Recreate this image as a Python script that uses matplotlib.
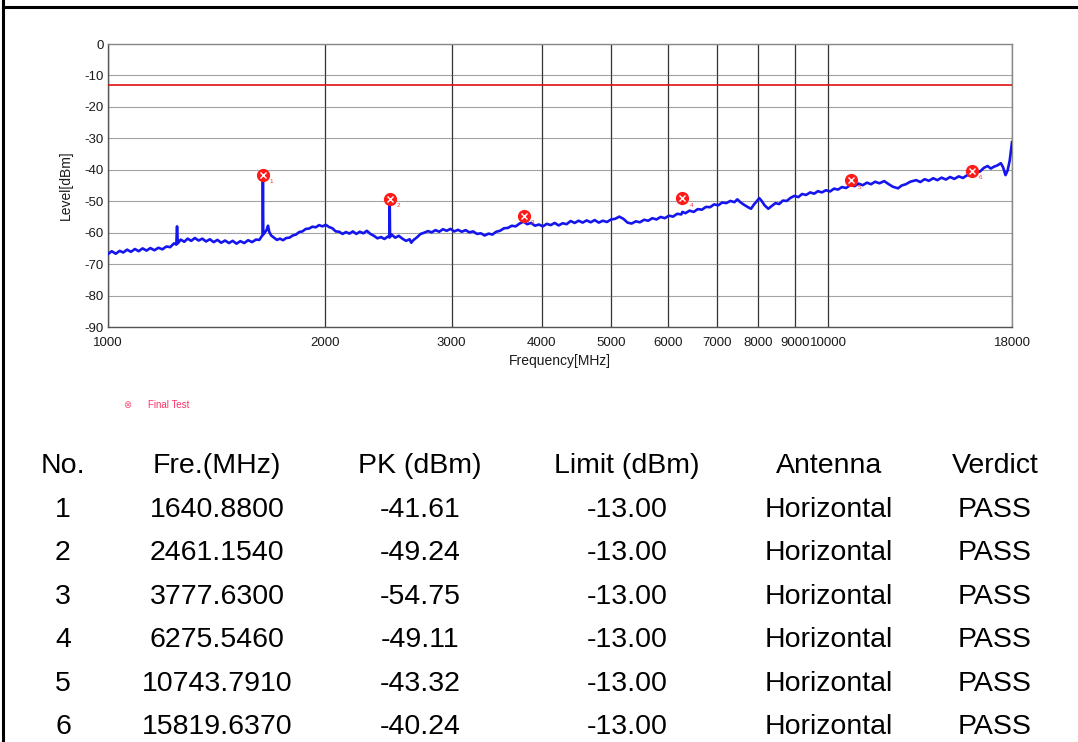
import matplotlib
matplotlib.use("Agg")
import matplotlib.pyplot as plt
from matplotlib.lines import Line2D

# ---------------- data ----------------
trace_freq = [1000, 1012, 1025, 1038, 1050, 1063, 1076, 1090, 1103, 1117, 1131, 1145, 1160,
              1175, 1190, 1205, 1220, 1235, 1244, 1247, 1250, 1262, 1276, 1290, 1305, 1320,
              1336, 1352, 1368, 1385, 1402, 1419, 1436, 1454, 1472, 1490, 1508, 1527, 1546,
              1565, 1585, 1605, 1622, 1634, 1639, 1640.88, 1643, 1650, 1660, 1668, 1675,
              1685, 1700, 1716, 1733, 1750, 1768, 1786, 1805, 1824, 1843, 1862, 1882, 1902,
              1922, 1943, 1964, 1985, 2006, 2027, 2049, 2071, 2094, 2117, 2140, 2164, 2188,
              2212, 2237, 2262, 2288, 2314, 2340, 2367, 2394, 2420, 2448, 2458, 2461.154,
              2464, 2476, 2505, 2534, 2563, 2593, 2623, 2637, 2654, 2685, 2717, 2749, 2782,
              2815, 2849, 2883, 2918, 2953, 2989, 3025, 3062, 3099, 3137, 3175, 3214, 3254,
              3294, 3335, 3376, 3418, 3460, 3503, 3547, 3591, 3636, 3682, 3728, 3777, 3820,
              3868, 3917, 3966, 4016, 4067, 4119, 4171, 4224, 4278, 4333, 4389, 4446, 4503,
              4561, 4620, 4680, 4741, 4803, 4866, 4930, 4995, 5061, 5128, 5196, 5265, 5335,
              5406, 5478, 5551, 5625, 5700, 5776, 5853, 5931, 6010, 6090, 6171, 6253, 6275,
              6336, 6420, 6505, 6591, 6678, 6766, 6855, 6945, 7036, 7128, 7221, 7315, 7410,
              7480, 7560, 7650, 7740, 7814, 7890, 7960, 8022, 8090, 8160, 8257, 8350, 8450,
              8550, 8650, 8760, 8870, 8977, 9090, 9200, 9320, 9440, 9560, 9680, 9800, 9931,
              10060, 10190, 10320, 10450, 10590, 10743, 10880, 11020, 11170, 11320, 11470,
              11620, 11780, 11965, 12120, 12300, 12503, 12650, 12820, 13000, 13253, 13430,
              13610, 13800, 13990, 14180, 14370, 14570, 14770, 14970, 15180, 15390, 15600,
              15819, 16040, 16260, 16450, 16650, 16820, 17000, 17180, 17370, 17500, 17630,
              17750, 17870, 18000]
trace_level = [-66.8, -65.9, -66.7, -65.8, -66.3, -65.4, -66.1, -65.2, -65.9, -65.0, -65.7,
               -64.9, -65.6, -64.8, -65.3, -64.4, -64.6, -63.4, -63.8, -58.0, -63.4, -62.2,
               -62.9, -61.9, -62.6, -61.7, -62.5, -61.9, -62.8, -62.1, -63.0, -62.3, -63.2,
               -62.5, -63.3, -62.6, -63.5, -62.7, -63.3, -62.4, -63.0, -62.2, -62.3, -61.2,
               -60.8, -41.61, -60.6, -60.0, -59.2, -57.8, -59.8, -60.9, -61.6, -62.3, -61.9,
               -62.4, -61.7, -61.6, -60.9, -60.6, -59.8, -59.6, -58.8, -58.7, -58.1, -58.3,
               -57.6, -58.0, -57.5, -58.2, -58.6, -59.6, -59.7, -60.4, -59.8, -60.3, -59.6,
               -60.4, -59.7, -60.2, -59.4, -60.4, -61.0, -61.8, -61.4, -62.0, -61.2, -61.5,
               -49.24, -61.4, -60.6, -61.6, -61.0, -61.9, -62.6, -62.1, -63.2, -62.4, -61.5,
               -60.4, -60.0, -59.5, -59.9, -59.2, -59.7, -58.9, -59.4, -58.8, -59.6, -59.1,
               -59.7, -59.2, -59.9, -59.6, -60.4, -60.2, -60.9, -60.3, -60.6, -59.7, -59.4,
               -58.6, -58.5, -57.8, -58.0, -57.1, -56.5, -57.3, -56.9, -57.8, -57.4, -58.0,
               -57.2, -57.6, -56.9, -57.7, -57.0, -57.3, -56.3, -56.9, -56.2, -56.8, -56.1,
               -56.7, -56.0, -56.8, -56.2, -56.6, -55.8, -55.6, -54.9, -55.6, -56.8, -57.1,
               -56.4, -56.7, -55.9, -56.2, -55.4, -55.8, -55.0, -55.4, -54.6, -54.9, -54.0,
               -54.2, -53.4, -53.8, -53.0, -53.4, -52.5, -52.7, -51.8, -51.9, -51.0, -51.3,
               -50.4, -50.6, -49.9, -50.3, -49.4, -50.4, -51.2, -51.9, -52.4, -51.0, -50.0,
               -49.0, -50.0, -51.3, -52.4, -51.5, -50.6, -50.9, -49.8, -49.9, -48.9, -48.3,
               -48.7, -47.7, -48.0, -47.2, -47.6, -46.8, -47.2, -46.5, -46.9, -46.0, -46.3,
               -45.5, -45.8, -44.8, -45.2, -44.4, -44.9, -44.1, -44.6, -43.8, -44.3, -43.6,
               -44.5, -45.4, -45.9, -45.0, -44.6, -43.8, -43.3, -43.9, -43.0, -43.5, -42.7,
               -43.3, -42.5, -43.1, -42.3, -42.9, -42.1, -42.6, -41.7, -41.8, -40.9, -40.5,
               -39.4, -38.8, -39.6, -39.0, -38.6, -37.9, -39.3, -41.7, -40.2, -37.0, -31.2]

limit_level = -13.0

table_no = ["1", "2", "3", "4", "5", "6"]
table_freq = ["1640.8800", "2461.1540", "3777.6300", "6275.5460", "10743.7910", "15819.6370"]
table_pk = ["-41.61", "-49.24", "-54.75", "-49.11", "-43.32", "-40.24"]
table_limit = ["-13.00"] * 6
table_ant = ["Horizontal"] * 6
table_verdict = ["PASS"] * 6
table_header = ["No.", "Fre.(MHz)", "PK (dBm)", "Limit (dBm)", "Antenna", "Verdict"]

marker_freq = [float(f) for f in table_freq]
marker_level = [float(v) for v in table_pk]

x_ticks = [1000, 2000, 3000, 4000, 5000, 6000, 7000, 8000, 9000, 10000, 18000]
y_ticks = [0, -10, -20, -30, -40, -50, -60, -70, -80, -90]

# ---------------- figure ----------------
W, H = 1078, 742
fig = plt.figure(figsize=(W / 100, H / 100), dpi=100)
plt.rcParams['font.family'] = ['Liberation Sans', 'DejaVu Sans']

def fx(px):
    return px / W

def fy(py):
    return 1 - py / H

# border lines
fig.add_artist(Line2D([fx(3), fx(3)], [0, 1], color='black', lw=2.2))
fig.add_artist(Line2D([fx(3), 1], [fy(7), fy(7)], color='black', lw=2.2))

ax = fig.add_axes([fx(108), fy(327), (1012 - 108) / W, (327 - 44) / H])
ax.set_xscale('log')
ax.set_xlim(1000, 18000)
ax.set_ylim(-90, 0)
ax.set_xticks(x_ticks)
ax.set_xticklabels([str(t) for t in x_ticks], fontsize=9.5)
ax.xaxis.set_minor_locator(matplotlib.ticker.NullLocator())
ax.set_yticks(y_ticks)
ax.set_yticklabels([str(t) for t in y_ticks], fontsize=9.5)
ax.tick_params(length=0, colors='#1a1a1a')
ax.tick_params(axis='x', pad=7)
ax.tick_params(axis='y', pad=3)

ax.grid(True, axis='y', color='#5a5a5a', lw=0.8, linestyle=(0, (1, 0.8)))
ax.grid(True, axis='x', color='#333333', lw=0.9, linestyle='-')
for s in ax.spines.values():
    s.set_color('#888888')
    s.set_linewidth(1.0)
ax.spines['left'].set_color('#555555')
ax.spines['bottom'].set_color('#555555')

ax.axhline(limit_level, color='#e01010', lw=1.2, zorder=3)
ax.plot(trace_freq, trace_level, color='#1515ee', lw=1.9, zorder=4)

ax.plot(marker_freq, marker_level, linestyle='none', marker='o', ms=8.5,
        mfc='#ff1a1a', mec='#ff1a1a', zorder=5)
ax.plot(marker_freq, marker_level, linestyle='none', marker='x', ms=5,
        mec='white', mew=1.0, zorder=6)
for i, (f, v) in enumerate(zip(marker_freq, marker_level)):
    ax.annotate(table_no[i], (f, v), xytext=(5, -6), textcoords='offset points',
                fontsize=4.5, color='#ff3030', zorder=7)

ax.set_xlabel('Frequency[MHz]', fontsize=10, labelpad=4, color='#1a1a1a')
ax.set_ylabel('Level[dBm]', fontsize=10, labelpad=8, color='#1a1a1a')

# legend
fig.text(fx(123), fy(405), u'\u2297', fontsize=7, color='#ff5577', va='center')
fig.text(fx(148), fy(405), 'Final Test', fontsize=7, color='#ff3366', va='center')

# table
col_x = [63, 217, 420, 627, 829, 995]
row_y = [466, 510, 553, 597, 640, 684, 727]
cols = [table_no, table_freq, table_pk, table_limit, table_ant, table_verdict]
for c, hdr in enumerate(table_header):
    fig.text(fx(col_x[c]), fy(row_y[0]), hdr, fontsize=20.5, ha='center', va='center')
for r in range(6):
    for c in range(6):
        fig.text(fx(col_x[c]), fy(row_y[r + 1]), cols[c][r], fontsize=20.5,
                 ha='center', va='center')

fig.savefig('out.png', dpi=100)
